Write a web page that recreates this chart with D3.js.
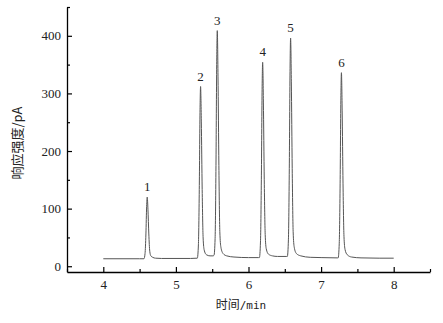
<!DOCTYPE html>
<html>
<head>
<meta charset="utf-8">
<script src="https://cdn.jsdelivr.net/npm/d3@7"></script>
<style>
  html, body { margin: 0; padding: 0; background: #fff; }
  svg { display: block; }
</style>
</head>
<body>
<svg id="chart" width="443" height="323"></svg>
<script>
(function () {
// ---- data ----
const xTicks = [4, 5, 6, 7, 8];
const yTicks = [0, 100, 200, 300, 400];
const peakLabels = ["1", "2", "3", "4", "5", "6"];
const peakTimes = [4.605, 5.34, 5.57, 6.195, 6.58, 7.28];
const peakHeights = [120, 312, 409, 354, 396, 336];
const traceTime = [
  4.00, 4.50, 4.56, 4.575, 4.587, 4.597, 4.605, 4.615, 4.627, 4.640, 4.655, 4.68, 4.72, 4.80,
  5.20, 5.295, 5.31, 5.322, 5.332, 5.34, 5.35, 5.362, 5.375, 5.39, 5.42, 5.47, 5.51,
  5.525, 5.54, 5.552, 5.562, 5.57, 5.58, 5.592, 5.605, 5.62, 5.65, 5.70, 5.80, 6.00, 6.14,
  6.15, 6.165, 6.177, 6.187, 6.195, 6.205, 6.217, 6.23, 6.245, 6.275, 6.33, 6.40, 6.52,
  6.535, 6.55, 6.562, 6.572, 6.58, 6.59, 6.602, 6.615, 6.63, 6.66, 6.72, 6.85, 7.00, 7.225,
  7.235, 7.25, 7.262, 7.272, 7.28, 7.29, 7.302, 7.315, 7.33, 7.36, 7.42, 7.55, 7.80, 8.00
];
const traceSignal = [
  13, 13, 13, 22, 56, 104, 120, 99, 56, 26, 18, 15.5, 14, 13.5,
  13.5, 14, 37, 133, 267, 312, 252, 133, 49, 28, 20, 18, 18,
  19, 48, 175, 350, 409, 330, 175, 60, 33, 22, 18, 16, 15, 15,
  15, 42, 150, 302, 354, 285, 150, 55, 30, 21, 18, 17, 17,
  17, 47, 170, 338, 396, 320, 170, 60, 33, 22, 18, 15.5, 15, 14.5,
  14.5, 40, 143, 287, 336, 271, 143, 52, 29, 20, 16, 14.5, 14, 14
];
const xTitle = "时间";
const xUnit = "/min";
const yTitle = "响应强度/pA";

// ---- layout ----
const svg = d3.select("#chart");
const mLeft = 67, mRight = 430, mTop = 7, mBottom = 272;

const x = d3.scaleLinear().domain([3.5, 8.5]).range([mLeft, mRight]);
const y = d3.scaleLinear().domain([-10, 450]).range([mBottom, mTop]);

const serif = "'Liberation Serif', 'Times New Roman', serif";

// minor ticks
const xMinor = d3.range(3.5, 8.51, 0.5).filter(v => Math.abs(v - Math.round(v)) > 0.01);
const yMinor = d3.range(-50, 451, 50).filter(v => v % 100 !== 0 && v > -10);

svg.append("g")
  .attr("transform", `translate(0,${mBottom})`)
  .call(d3.axisBottom(x).tickValues(xMinor).tickSize(-3).tickFormat(""))
  .call(g => g.select(".domain").remove())
  .call(g => g.selectAll("line").attr("stroke", "#000").attr("stroke-width", 1.2));

svg.append("g")
  .attr("transform", `translate(${mLeft},0)`)
  .call(d3.axisLeft(y).tickValues(yMinor).tickSize(-3).tickFormat(""))
  .call(g => g.select(".domain").remove())
  .call(g => g.selectAll("line").attr("stroke", "#000").attr("stroke-width", 1.2));

// major axes
const gx = svg.append("g")
  .attr("transform", `translate(0,${mBottom})`)
  .call(d3.axisBottom(x).tickValues(xTicks).tickSize(-5).tickPadding(8).tickSizeOuter(0).tickFormat(d3.format("d")));
gx.select(".domain").attr("stroke", "#000").attr("stroke-width", 1.3);
gx.selectAll("line").attr("stroke", "#000").attr("stroke-width", 1.2);
gx.selectAll("text").attr("font-family", serif).attr("font-size", 13).attr("fill", "#222");

const gy = svg.append("g")
  .attr("transform", `translate(${mLeft},0)`)
  .call(d3.axisLeft(y).tickValues(yTicks).tickSize(-5).tickPadding(6).tickSizeOuter(0).tickFormat(d3.format("d")));
gy.select(".domain").attr("stroke", "#000").attr("stroke-width", 1.3);
gy.selectAll("line").attr("stroke", "#000").attr("stroke-width", 1.2);
gy.selectAll("text").attr("font-family", serif).attr("font-size", 13).attr("fill", "#222");

// chromatogram trace
const pts = traceTime.map((t, i) => [t, traceSignal[i]]);
svg.append("path")
  .datum(pts)
  .attr("fill", "none")
  .attr("stroke", "#555")
  .attr("stroke-width", 1)
  .attr("d", d3.line().x(d => x(d[0])).y(d => y(d[1])).curve(d3.curveMonotoneX));

// peak labels
svg.append("g").selectAll("text")
  .data(peakLabels)
  .join("text")
  .attr("x", (d, i) => x(peakTimes[i]))
  .attr("y", (d, i) => y(peakHeights[i]) - 6)
  .attr("text-anchor", "middle")
  .attr("font-family", serif)
  .attr("font-size", 13)
  .attr("fill", "#222")
  .text(d => d);

// axis titles
const xt = svg.append("text")
  .attr("x", 241)
  .attr("y", 309)
  .attr("text-anchor", "middle")
  .attr("font-size", 12)
  .attr("fill", "#222");
xt.append("tspan").attr("font-family", "'Noto Sans CJK SC', sans-serif").text(xTitle);
xt.append("tspan").attr("font-family", "'DejaVu Sans Mono', 'Liberation Mono', monospace").attr("font-size", 11).text(xUnit);

svg.append("text")
  .attr("transform", `translate(22,143) rotate(-90)`)
  .attr("text-anchor", "middle")
  .attr("font-family", "'Noto Sans CJK SC', sans-serif")
  .attr("font-size", 13)
  .attr("fill", "#222")
  .text(yTitle);
})();
</script>
</body>
</html>
